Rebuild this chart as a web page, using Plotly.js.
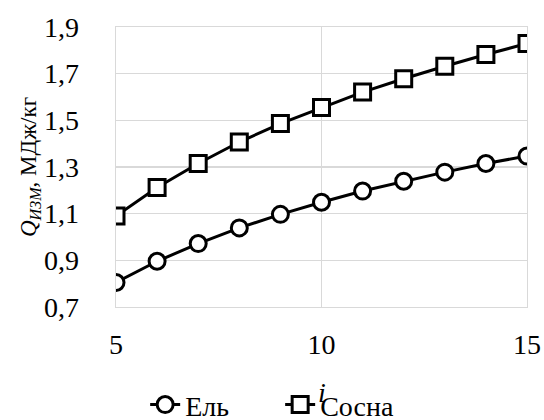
<!DOCTYPE html>
<html><head><meta charset="utf-8">
<script src="https://cdn.plot.ly/plotly-3.0.1.min.js"></script>
<style>body{margin:0;background:#fff}#c{width:544px;height:420px}</style>
</head><body><div id="c"></div>
<script>
const xValues = [5, 6, 7, 8, 9, 10, 11, 12, 13, 14, 15];
const elValues = [0.805, 0.896, 0.972, 1.039, 1.097, 1.149, 1.197, 1.239, 1.278, 1.315, 1.347];
const sosnaValues = [1.090, 1.212, 1.315, 1.407, 1.486, 1.555, 1.621, 1.678, 1.732, 1.782, 1.829];
const seriesNames = ['Ель', 'Сосна'];
const yTicks = [0.7, 0.9, 1.1, 1.3, 1.5, 1.7, 1.9];
const xTicks = [5, 10, 15];
const xTitle = '<i>i</i>';

const FAMILY = 'Liberation Serif';
const traces = [
  {x: xValues, y: elValues, name: seriesNames[0], type: 'scatter', mode: 'lines+markers',
   line: {color: '#000', width: 3}, marker: {symbol: 'circle', size: 16, color: '#fff', line: {color: '#000', width: 3}}},
  {x: xValues, y: sosnaValues, name: seriesNames[1], type: 'scatter', mode: 'lines+markers',
   line: {color: '#000', width: 3}, marker: {symbol: 'square', size: 16, color: '#fff', line: {color: '#000', width: 3}}}
];
const layout = {
  width: 544, height: 420, separators: ', ',
  margin: {l: 116, r: 17, t: 21, b: 113},
  paper_bgcolor: '#fff', plot_bgcolor: '#fff',
  font: {family: FAMILY, size: 28, color: '#000'},
  showlegend: true,
  legend: {orientation: 'h', xref: 'container', yref: 'container', x: 0.515, xanchor: 'center', y: 0.036, yanchor: 'middle',
    font: {family: FAMILY, size: 28, color: '#000'}, bgcolor: 'rgba(0,0,0,0)', entrywidth: 90},
  xaxis: {range: [5, 15], tickvals: xTicks, showgrid: true, gridcolor: '#d9d9d9', gridwidth: 1.3,
    showline: true, linecolor: '#d9d9d9', linewidth: 1.3, mirror: true, zeroline: false, ticks: '',
    ticklabelstandoff: 12, tickfont: {family: FAMILY, size: 28, color: '#000'}, automargin: false},
  yaxis: {range: [0.7, 1.9], tickvals: yTicks, tickformat: '.1f', showgrid: true, gridcolor: '#d9d9d9', gridwidth: 1.3,
    showline: true, linecolor: '#d9d9d9', linewidth: 1.3, mirror: true, zeroline: false, ticks: '',
    ticklabelstandoff: 30, tickfont: {family: FAMILY, size: 28, color: '#000'}, automargin: 'top',
    title: {text: '<i>Q</i><sub><i>ИЗМ</i></sub>, МДж/кг', font: {family: FAMILY, size: 23, color: '#000'}, standoff: 0}},
  annotations: [{text: xTitle, xref: 'paper', yref: 'paper', x: 0.5, y: -0.304, xanchor: 'center', yanchor: 'middle',
    showarrow: false, font: {family: FAMILY, size: 28, color: '#000'}}]
};
Plotly.newPlot('c', traces, layout, {displayModeBar: false, staticPlot: true});
</script></body></html>
